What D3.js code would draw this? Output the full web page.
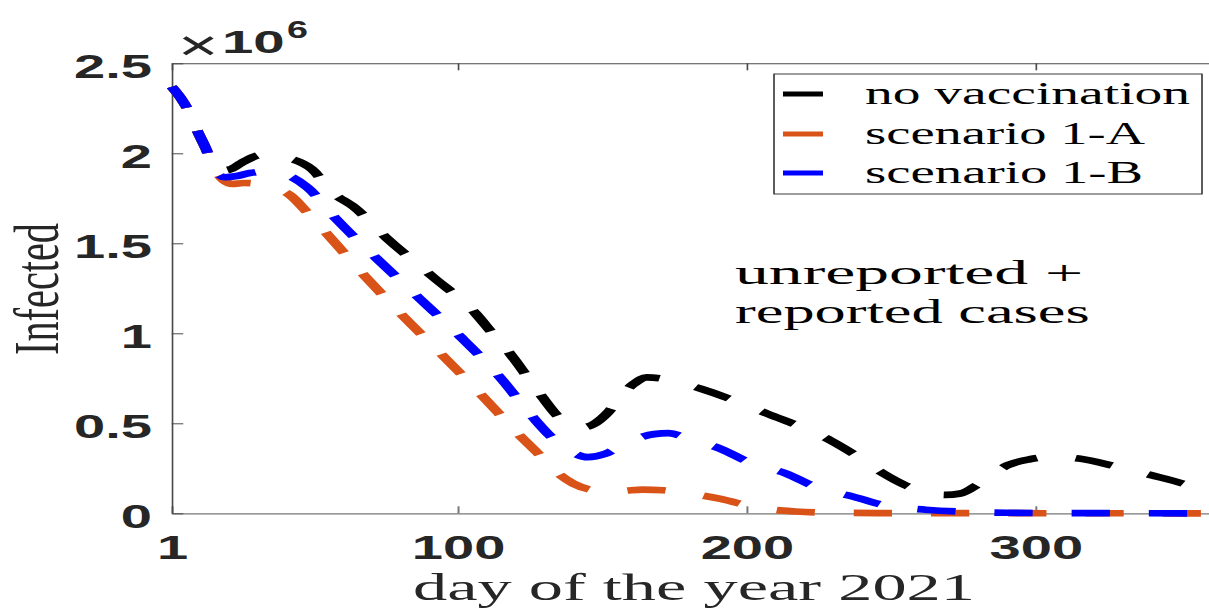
<!DOCTYPE html>
<html><head><meta charset="utf-8">
<script src="https://cdn.jsdelivr.net/npm/d3@7"></script>
<style>body{margin:0;background:#fff;} svg{display:block}</style>
</head><body><svg id="c" width="1209" height="609"></svg>
<script>
// ---- data (values in millions of infected) ----
const blackDays = [1,4,7,10,13,15.5,18,21,25,29.3,35,40.8,49.5,56.6,64.2,75.4,91.3,106.2,112,118.6,124,129.3,134,138.5,142.9,147,152,157,161,165.4,172,184.7,207.2,228.9,238,247.4,255,262,268.7,274,281,290.5,298,306,315,328,340,352,359,365];
const blackVals = [2.37,2.31,2.23,2.12,2.02,1.94,1.905,1.91,1.945,1.98,1.998,1.977,1.912,1.783,1.7,1.529,1.315,1.11,1.0,0.877,0.76,0.645,0.55,0.49,0.477,0.495,0.56,0.66,0.72,0.755,0.745,0.689,0.553,0.406,0.32,0.22,0.155,0.115,0.102,0.11,0.17,0.268,0.3,0.315,0.304,0.26,0.212,0.16,0.118,0.085];
const orangeDays = [1,4,7,10,13,16,19,22,26,31,36,42,48,55,67.7,80.5,94.4,108,121,128,135,140,145,150,157,164,171,179,191,204,217,230,250,365];
const orangeVals = [2.37,2.31,2.23,2.12,2.02,1.91,1.85,1.83,1.835,1.83,1.81,1.767,1.67,1.548,1.321,1.105,0.883,0.661,0.44,0.33,0.218,0.165,0.135,0.123,0.125,0.132,0.128,0.113,0.08,0.03,0.01,0.003,0.001,0];
const blueDays = [1,4,7,10,13,15,17,19.5,23,28,34,40,48,58,72,86.4,100.8,114,126,132,138,145,151,157,163,168,173,180,191,202,213.5,225,237,249,262,276,290,310,365];
const blueVals = [2.37,2.31,2.23,2.12,2.02,1.93,1.885,1.867,1.872,1.89,1.9,1.885,1.81,1.634,1.415,1.199,0.983,0.767,0.534,0.43,0.355,0.312,0.33,0.379,0.42,0.44,0.445,0.414,0.358,0.275,0.222,0.139,0.092,0.04,0.02,0.008,0.003,0.001,0];

const seriesNames = ["no vaccination","scenario 1-A","scenario 1-B"];
const seriesColors = ["#000000","#D95319","#0000FF"];
const xTicks = [1,100,200,300];
const yTicks = [0,0.5,1,1.5,2,2.5];
const yTickLabels = ["0","0.5","1","1.5","2","2.5"];
const xLabel = "day of the year 2021";
const yLabel = "Infected";
const noteLines = ["unreported +","reported cases"];

// ---- layout (figure is horizontally stretched) ----
const S = 1.65;
const svg = d3.select("#c");
const g = svg.append("g").attr("transform", `scale(${S},1)`);
const X0 = 171.7 / S, dayPx = 2.889 / S;
const x = d3.scaleLinear().domain([1,365]).range([X0, X0 + 364*dayPx]);
const y = d3.scaleLinear().domain([0,2.5]).range([513.3, 63.3]);
const axisCol = "#262626";
const tickFont = "'Liberation Sans', Arial, sans-serif";
const serif = "'Liberation Serif', 'Times New Roman', serif";

// top and right border with ticks
const topAx = g.append("g").attr("transform", `translate(0,${y(2.5)})`)
  .call(d3.axisTop(x).tickValues(xTicks).tickSizeInner(-7).tickSizeOuter(0).tickFormat(""));
const rightAx = g.append("g").attr("transform", `translate(${x(365)},0)`)
  .call(d3.axisRight(y).tickValues(yTicks).tickSizeInner(-7).tickSizeOuter(0).tickFormat(""));

// bottom axis
const bottomAx = g.append("g").attr("transform", `translate(0,${y(0)})`)
  .call(d3.axisBottom(x).tickValues(xTicks).tickSizeInner(-7).tickSizeOuter(0).tickFormat(d3.format("d")));
bottomAx.selectAll("text").attr("y", 45.7).attr("dy", null)
  .attr("font-family", tickFont).attr("font-weight", "bold").attr("font-size", 34).attr("fill", axisCol);

// left axis
const leftAx = g.append("g").attr("transform", `translate(${X0},0)`)
  .call(d3.axisLeft(y).tickValues(yTicks).tickSizeInner(-7).tickSizeOuter(0).tickFormat((d,i)=>yTickLabels[i]));
leftAx.selectAll("text").attr("x", -12).attr("dy", null).attr("y", 14)
  .attr("font-family", tickFont).attr("font-weight", "bold").attr("font-size", 34).attr("fill", axisCol);

[topAx, rightAx, leftAx].forEach(a => { a.selectAll("path,line").attr("stroke", "#4a4a4a").attr("stroke-width", 1); });
bottomAx.selectAll("path,line").attr("stroke", "#777").attr("stroke-width", 1.2);

// x10^6
g.append("text").attr("x", 178/S).attr("y", 60).attr("font-family", tickFont).attr("font-size", 42).attr("fill", axisCol).text("×");
g.append("text").attr("x", 222/S).attr("y", 53).attr("font-family", tickFont).attr("font-weight","bold").attr("font-size", 32)
  .attr("textLength", 38).attr("lengthAdjust","spacingAndGlyphs").attr("fill", axisCol).text("10");
g.append("text").attr("x", 287/S).attr("y", 38).attr("font-family", tickFont).attr("font-weight","bold").attr("font-size", 24)
  .attr("textLength", 12.7).attr("lengthAdjust","spacingAndGlyphs").attr("fill", axisCol).text("6");

// lines
const series = [
  blackDays.map((d,i)=>[d, blackVals[i]]),
  orangeDays.map((d,i)=>[d, orangeVals[i]]),
  blueDays.map((d,i)=>[d, blueVals[i]])
];
const line = d3.line().x(d=>x(d[0])).y(d=>y(d[1])).curve(d3.curveMonotoneX);
series.forEach((s,i)=>{
  g.append("path").datum(s).attr("d", line).attr("fill","none")
    .attr("stroke", seriesColors[i]).attr("stroke-width", 6.7)
    .attr("stroke-dasharray", "23.2 23.6").attr("stroke-linecap","butt");
});

// legend
const lg = g.append("g");
lg.append("rect").attr("x", 774/S).attr("y", 74).attr("width", (1202-774)/S).attr("height", 120)
  .attr("fill","#fff").attr("stroke","#262626").attr("stroke-width", 0.9);
const lgLineY = [94, 134, 173];
const lgTextLen = [197, 169.7, 168.5];
seriesNames.forEach((n,i)=>{
  lg.append("line").attr("x1", 783/S).attr("x2", 823/S).attr("y1", lgLineY[i]).attr("y2", lgLineY[i])
    .attr("stroke", seriesColors[i]).attr("stroke-width", 5);
  lg.append("text").attr("x", 865/S).attr("y", lgLineY[i]+10).attr("font-family", serif).attr("font-size", 31)
    .attr("textLength", lgTextLen[i]).attr("lengthAdjust","spacingAndGlyphs").attr("fill","#000").text(n);
});

// annotation
const noteY = [284, 323], noteLen = [211, 215];
noteLines.forEach((t,i)=>{
  g.append("text").attr("x", 735/S).attr("y", noteY[i]).attr("font-family", serif).attr("font-size", 34)
    .attr("textLength", noteLen[i]).attr("lengthAdjust","spacingAndGlyphs").attr("fill","#000").text(t);
});

// axis labels
g.append("text").attr("x", 694/S).attr("y", 600).attr("text-anchor","middle").attr("font-family", serif)
  .attr("font-size", 37).attr("textLength", 340.6).attr("lengthAdjust","spacingAndGlyphs").attr("fill", axisCol).text(xLabel);
g.append("text").attr("transform", `translate(${58/S},289) rotate(-90)`).attr("text-anchor","middle").attr("font-family", serif)
  .attr("font-size", 38).attr("textLength", 132).attr("lengthAdjust","spacingAndGlyphs").attr("fill", axisCol).text(yLabel);
</script></body></html>
